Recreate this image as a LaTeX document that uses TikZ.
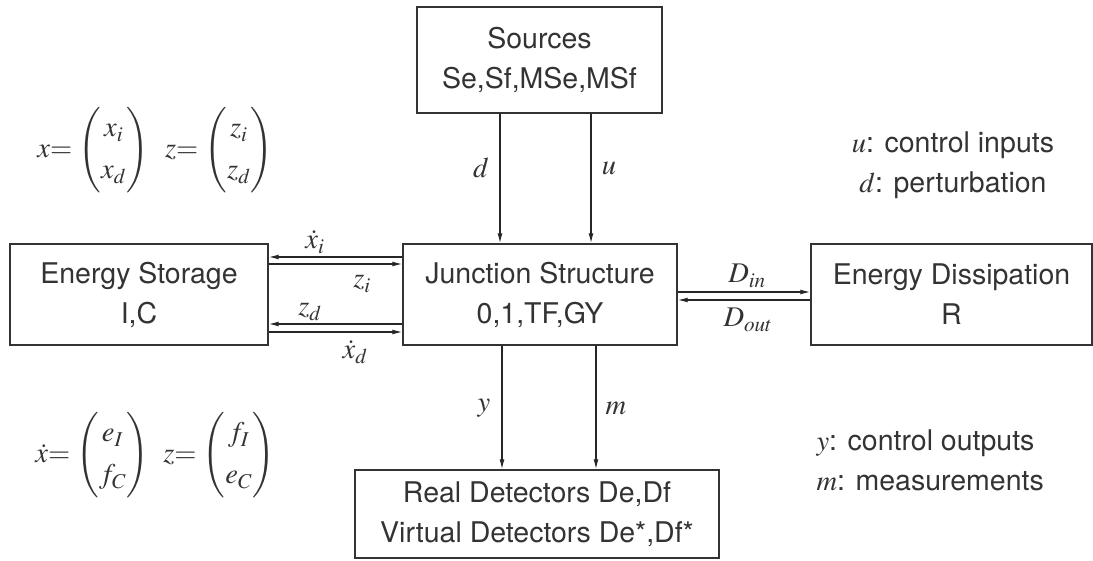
\documentclass[tikz,border=0pt]{standalone}
\usepackage{amsmath}
\usepackage{mathptmx}
\usepackage[no-math]{fontspec}
\setmainfont{TeX Gyre Heros}
\usepackage{tikz}
\usetikzlibrary{arrows.meta}

\begin{document}
\begin{tikzpicture}[x=1pt,y=-1pt,>={Latex[length=10pt,width=5pt]},
  every node/.style={font=\fontsize{28.5}{40}\selectfont,text=black!80},
  blockbox/.style={draw=black!80,line width=1.4pt,align=center,inner sep=0pt},
  sig/.style={->,draw=black!85,line width=1.3pt},
  siglabel/.style={inner sep=0pt}]
  \useasboundingbox (0,0) rectangle (1093,561);
  % blocks
  \node[blockbox,minimum width=245pt,minimum height=106pt] (src) at (539.5,60) {Sources\\Se,Sf,MSe,MSf};
  \node[blockbox,minimum width=274pt,minimum height=101pt] (junc) at (540,294.5) {Junction Structure\\0,1,TF,GY};
  \node[blockbox,minimum width=258pt,minimum height=101pt] (stor) at (139,294.5) {Energy Storage\\I,C};
  \node[blockbox,minimum width=281pt,minimum height=101pt] (diss) at (951.5,294.5) {Energy Dissipation\\R};
  \node[blockbox,minimum width=364pt,minimum height=88pt] (det) at (537,514) {Real Detectors De,Df\\Virtual Detectors De*,Df*};
  % sources -> junction
  \draw[sig] (src.south -| 500,0) -- (junc.north -| 500,0);
  \draw[sig] (src.south -| 591,0) -- (junc.north -| 591,0);
  \node[siglabel] (ld) at (481,168) {$d$};
  \node[siglabel] (lu) at (609,168) {$u$};
  % junction <-> storage
  \draw[sig] (junc.west |- 0,257) -- (stor.east |- 0,257);
  \draw[sig] (stor.east |- 0,264) -- (junc.west |- 0,264);
  \draw[sig] (junc.west |- 0,324) -- (stor.east |- 0,324);
  \draw[sig] (stor.east |- 0,332) -- (junc.west |- 0,332);
  \node[siglabel] (lxi) at (315,242) {$\dot{x}_i$};
  \node[siglabel] (lzi) at (362,284) {$z_i$};
  \node[siglabel] (lzd) at (310,312) {$z_d$};
  \node[siglabel] (lxd) at (355,352) {$\dot{x}_d$};
  % junction <-> dissipation
  \draw[sig] (junc.east |- 0,292) -- (diss.west |- 0,292);
  \draw[sig] (diss.west |- 0,300) -- (junc.east |- 0,300);
  \node[siglabel] (ldin) at (747,276) {$D_{in}$};
  \node[siglabel] (ldout) at (748,320) {$D_{out}$};
  % junction -> detectors
  \draw[sig] (junc.south -| 502,0) -- (det.north -| 502,0);
  \draw[sig] (junc.south -| 596,0) -- (det.north -| 596,0);
  \node[siglabel] (ly) at (484,408) {$y$};
  \node[siglabel] (lm) at (616,408) {$m$};
  % vectors
  \node (vx) at (93,150) {$x{=}\,\begin{pmatrix}x_i\\[2pt]x_d\end{pmatrix}$};
  \node (vz) at (219,150) {$z{=}\,\begin{pmatrix}z_i\\[2pt]z_d\end{pmatrix}$};
  \node (vxdot) at (92,455) {$\dot{x}{=}\,\begin{pmatrix}e_I\\[2pt]f_C\end{pmatrix}$};
  \node (vzb) at (219,455) {$z{=}\,\begin{pmatrix}f_I\\[2pt]e_C\end{pmatrix}$};
  % legends
  \node[align=center] (legin) at (953,165) {$u$: control inputs\\$d$: perturbation};
  \node[align=left,anchor=west] (legout) at (813,460) {$y$: control outputs\\$m$: measurements};
\end{tikzpicture}
\end{document}
